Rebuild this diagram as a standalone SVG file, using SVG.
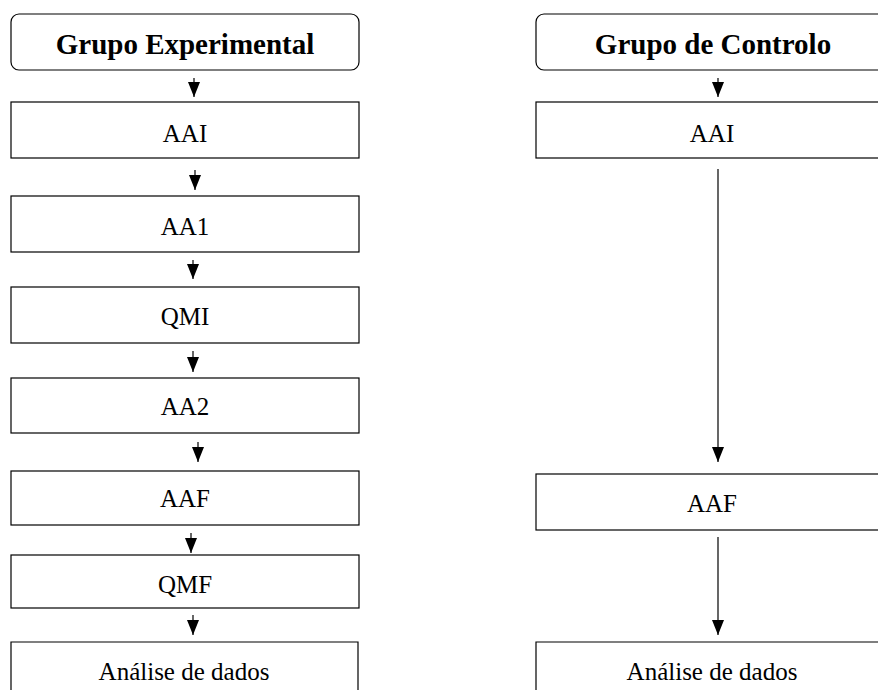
<svg xmlns="http://www.w3.org/2000/svg" width="878" height="690" viewBox="0 0 878 690">
<style>
.box{fill:#fff;stroke:#000;stroke-width:1.2}
.t{font-family:"Liberation Serif","Times New Roman",serif;font-size:25px;fill:#000;text-anchor:middle}
.h{font-family:"Liberation Serif","Times New Roman",serif;font-size:29px;font-weight:bold;fill:#000;text-anchor:middle}
.c{stroke:#000;stroke-width:1.2;fill:none;marker-end:url(#ah)}
</style>
<defs>
<marker id="ah" viewBox="0 0 15 12" refX="15" refY="6" markerWidth="15" markerHeight="12" markerUnits="userSpaceOnUse" orient="auto">
<path d="M0,0 L15,6 L0,12 Z" fill="#000"/>
</marker>
</defs>
<rect width="878" height="690" fill="#fff"/>
<g id="connectors">
<line class="c" x1="194" y1="78" x2="194" y2="97"/>
<line class="c" x1="195" y1="170" x2="195" y2="190"/>
<line class="c" x1="193" y1="260" x2="193" y2="279"/>
<line class="c" x1="193" y1="351" x2="193" y2="372"/>
<line class="c" x1="198" y1="442" x2="198" y2="462"/>
<line class="c" x1="191" y1="533" x2="191" y2="553"/>
<line class="c" x1="193" y1="615" x2="193" y2="635"/>
<line class="c" x1="718" y1="78" x2="718" y2="97"/>
<line class="c" x1="718" y1="169" x2="718" y2="462"/>
<line class="c" x1="718" y1="537" x2="718" y2="635"/>
</g>
<g id="exp-header"><rect class="box" x="11" y="14" width="348" height="56" rx="8"/><text class="h" x="185" y="54">Grupo Experimental</text></g>
<g id="exp-aai"><rect class="box" x="11" y="102" width="348" height="56"/><text class="t" x="185" y="142">AAI</text></g>
<g id="exp-aa1"><rect class="box" x="11" y="196" width="348" height="56"/><text class="t" x="185" y="235">AA1</text></g>
<g id="exp-qmi"><rect class="box" x="11" y="287" width="348" height="56"/><text class="t" x="185" y="325">QMI</text></g>
<g id="exp-aa2"><rect class="box" x="11" y="378" width="348" height="55"/><text class="t" x="185" y="415">AA2</text></g>
<g id="exp-aaf"><rect class="box" x="11" y="471" width="348" height="54"/><text class="t" x="185" y="507">AAF</text></g>
<g id="exp-qmf"><rect class="box" x="11" y="555" width="348" height="53"/><text class="t" x="185" y="593">QMF</text></g>
<g id="exp-analise"><path class="box" d="M11,691 V642 H358 V691"/><text class="t" x="184" y="680">Análise de dados</text></g>
<g id="ctl-header"><rect class="box" x="536" y="14" width="360" height="56" rx="8"/><text class="h" x="713" y="54">Grupo de Controlo</text></g>
<g id="ctl-aai"><rect class="box" x="536" y="102" width="360" height="56"/><text class="t" x="712" y="142">AAI</text></g>
<g id="ctl-aaf"><rect class="box" x="536" y="474" width="360" height="56"/><text class="t" x="712" y="512">AAF</text></g>
<g id="ctl-analise"><path class="box" d="M536,691 V642 H890"/><text class="t" x="712" y="680">Análise de dados</text></g>
</svg>
